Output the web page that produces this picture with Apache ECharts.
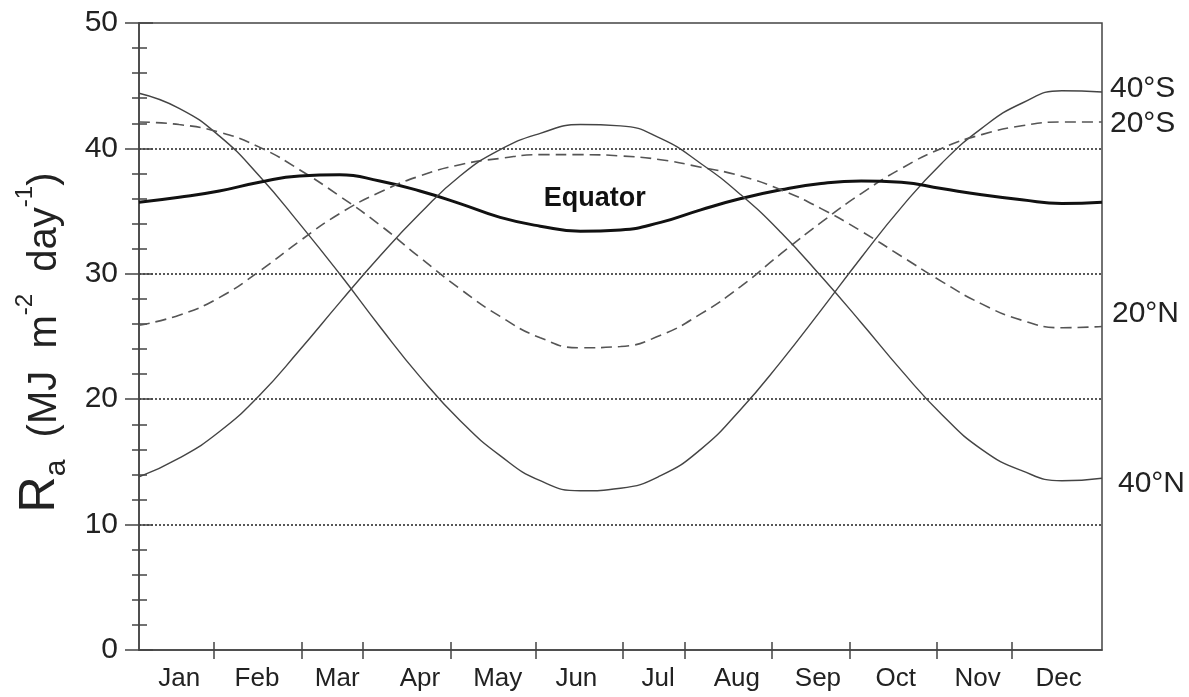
<!DOCTYPE html>
<html>
<head>
<meta charset="utf-8">
<script src="https://cdn.jsdelivr.net/npm/echarts@6/dist/echarts.min.js"></script>
<style>
    html, body { margin: 0; background: #fff; }
    #chart { width: 1189px; height: 697px; }
</style>
</head>
<body>
<div id="chart"></div>
<script>
// position along the year, in months from 1 Jan
const xPos = [0, 0.5, 1, 1.5, 2, 2.5, 3, 3.5, 4, 4.5, 5, 5.5, 6, 6.5, 7, 7.5, 8, 8.5, 9, 9.5, 10, 10.5, 11, 11.5, 12];

// Ra, MJ m-2 day-1
const ra40S = [44.4, 43.2, 41.0, 37.8, 34.0, 30.0, 25.8, 21.8, 18.3, 15.5, 13.5, 12.7, 12.9, 13.9, 16.0, 19.2, 23.0, 27.1, 31.3, 35.3, 38.8, 41.6, 43.6, 44.6, 44.5];
const ra20S = [42.1, 41.9, 41.3, 40.1, 38.3, 36.2, 33.9, 31.3, 28.8, 26.6, 24.9, 24.1, 24.2, 25.1, 26.8, 29.0, 31.6, 34.1, 36.4, 38.4, 40.0, 41.1, 41.8, 42.1, 42.1];
const raEq = [35.7, 36.1, 36.6, 37.3, 37.8, 37.9, 37.4, 36.6, 35.6, 34.5, 33.8, 33.4, 33.5, 34.1, 35.1, 36.0, 36.7, 37.2, 37.4, 37.3, 36.8, 36.3, 35.9, 35.6, 35.7];
const ra20N = [25.9, 26.7, 28.1, 30.2, 32.6, 34.8, 36.5, 37.8, 38.7, 39.2, 39.5, 39.5, 39.4, 39.1, 38.5, 37.8, 36.7, 35.2, 33.4, 31.4, 29.4, 27.6, 26.3, 25.7, 25.8];
const ra40N = [13.8, 15.3, 17.4, 20.3, 23.9, 27.7, 31.4, 34.8, 37.8, 39.9, 41.2, 41.9, 41.8, 40.8, 38.8, 36.3, 33.3, 29.8, 26.1, 22.3, 18.8, 16.0, 14.3, 13.5, 13.7];

// month axis: tick marks and label places as drawn in the figure
const months = ['Jan', 'Feb', 'Mar', 'Apr', 'May', 'Jun', 'Jul', 'Aug', 'Sep', 'Oct', 'Nov', 'Dec'];
const monthTicks = [0.93, 2.03, 2.79, 3.88, 4.95, 6.03, 6.80, 7.89, 8.86, 9.94, 10.88];
const monthLabelPos = [0.50, 1.47, 2.47, 3.50, 4.47, 5.45, 6.47, 7.45, 8.46, 9.43, 10.45, 11.46];

const FONT = 'Liberation Sans';
const AXIS = '#444';

function pairs(vals) {
    return xPos.map(function (x, i) { return [x, vals[i]]; });
}

function monthName(v) {
    let best = 0;
    monthLabelPos.forEach(function (p, i) {
        if (Math.abs(p - v) < Math.abs(monthLabelPos[best] - v)) best = i;
    });
    return months[best];
}

function curve(name, vals, style, endLabel) {
    return {
        name: name,
        type: 'line',
        data: pairs(vals),
        smooth: 0.5,
        smoothConstraint: false,
        showSymbol: false,
        clip: false,
        lineStyle: style,
        endLabel: endLabel ? Object.assign({
            show: true,
            formatter: name,
            fontFamily: FONT,
            fontSize: 30,
            color: '#222',
            distance: 8
        }, endLabel) : { show: false }
    };
}

let chart = echarts.init(document.getElementById('chart'));

let option = {
    backgroundColor: '#fff',
    animation: false,
    grid: {
        left: 139, right: 87, top: 23, bottom: 47,
        show: true,
        borderColor: AXIS,
        borderWidth: 1.5
    },
    xAxis: [
        {
            type: 'value',
            min: 0, max: 12,
            position: 'bottom',
            axisLine: { show: true, onZero: false, lineStyle: { color: AXIS, width: 1.5 } },
            axisTick: { show: true, length: 9, customValues: monthTicks, lineStyle: { color: AXIS, width: 1.5 } },
            axisLabel: {
                customValues: monthLabelPos,
                formatter: monthName,
                fontFamily: FONT, fontSize: 26, color: '#222', margin: 16
            },
            splitLine: { show: false }
        },
        {
            type: 'value',
            min: 0, max: 12,
            position: 'bottom',
            axisLine: { show: false },
            axisTick: { show: true, inside: true, length: 8, customValues: monthTicks, lineStyle: { color: AXIS, width: 1.5 } },
            axisLabel: { show: false },
            splitLine: { show: false }
        }
    ],
    yAxis: [
        {
            type: 'value',
            min: 0, max: 50, interval: 10,
            position: 'left',
            axisLine: { show: true, onZero: false, lineStyle: { color: AXIS, width: 1.5 } },
            axisTick: { show: true, length: 14, lineStyle: { color: AXIS, width: 1.5 } },
            minorTick: { show: true, splitNumber: 5, length: 7, lineStyle: { color: AXIS, width: 1.5 } },
            axisLabel: { fontFamily: FONT, fontSize: 30, color: '#222', margin: 21 },
            splitLine: {
                show: true,
                showMinLine: false,
                showMaxLine: false,
                lineStyle: { color: '#222', width: 1.5, type: [2, 2] }
            },
            name: '{R|R}{sub|a}{t|  (MJ  m}{sup|-2}{t|  day}{sup|-1}{t|)}',
            nameLocation: 'middle',
            nameRotate: 90,
            nameGap: 74,
            nameTextStyle: {
                padding: [0, 12, 0, 0],
                rich: {
                    R: { fontFamily: FONT, fontSize: 50, color: '#222', lineHeight: 56, verticalAlign: 'bottom' },
                    sub: { fontFamily: FONT, fontSize: 30, color: '#222', lineHeight: 56, verticalAlign: 'bottom', padding: [0, 0, -7, 0] },
                    t: { fontFamily: FONT, fontSize: 40, color: '#222', lineHeight: 56, verticalAlign: 'bottom' },
                    sup: { fontFamily: FONT, fontSize: 24, color: '#222', lineHeight: 56, verticalAlign: 'top', padding: [4, 0, 0, 0] }
                }
            }
        },
        {
            type: 'value',
            min: 0, max: 50, interval: 10,
            position: 'left',
            axisLine: { show: false },
            axisTick: { show: true, inside: true, length: 14, lineStyle: { color: AXIS, width: 1.5 } },
            minorTick: { show: true, splitNumber: 5, length: 8, lineStyle: { color: AXIS, width: 1.5 } },
            axisLabel: { show: false },
            splitLine: { show: false }
        }
    ],
    series: [
        curve('40°S', ra40S, { color: '#444', width: 1.4 }, { offset: [0, -3] }),
        curve('20°S', ra20S, { color: '#555', width: 1.6, type: [11, 6] }, { offset: [0, 2] }),
        Object.assign(curve('Equator', raEq, { color: '#111', width: 3 }, null), {
            markPoint: {
                symbol: 'circle',
                symbolSize: 0,
                data: [{ coord: [5.68, 36.0] }],
                label: {
                    show: true,
                    position: 'inside',
                    formatter: 'Equator',
                    fontFamily: FONT, fontSize: 27, fontWeight: 'bold', color: '#111'
                }
            }
        }),
        curve('20°N', ra20N, { color: '#555', width: 1.6, type: [11, 6] }, { offset: [2, -13] }),
        curve('40°N', ra40N, { color: '#444', width: 1.4 }, { offset: [8, 6] })
    ]
};

chart.setOption(option);
</script>
</body>
</html>
